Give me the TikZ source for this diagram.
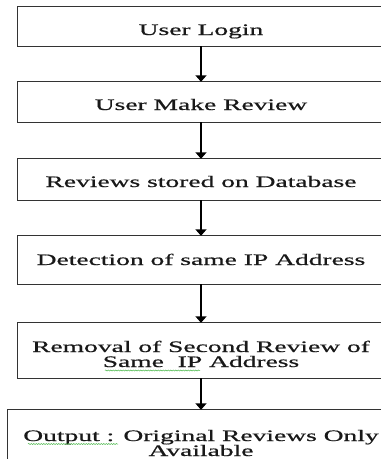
\documentclass[tikz,border=0pt]{standalone}
\usepackage{fontspec}
\setmainfont[FakeStretch=1.72,FakeBold=0.7]{Liberation Serif}
\usetikzlibrary{arrows.meta,decorations.pathmorphing}
\begin{document}
\begin{tikzpicture}[x=1pt,y=-1pt,
  box/.style={rectangle,inner sep=0pt,minimum width=382pt},
  edge/.style={draw=black!80,line width=0.9pt},
  lbl/.style={anchor=base,inner sep=0pt,align=center,font=\fontsize{16pt}{15pt}\selectfont,text=black!90},
  flow/.style={draw=black,line width=1.4pt,-{Triangle[width=11pt,length=6.5pt]}},
  spell/.style={draw=green!60!black!70,line width=0.5pt,decorate,decoration={snake,amplitude=0.6pt,segment length=2.5pt}}]
\useasboundingbox (0,0) rectangle (381,459);
\clip (0,0) rectangle (381,459);
\node[box,minimum height=39pt] (b1) at (209,26.5) {};
\node[box,minimum height=40pt] (b2) at (209,102) {};
\node[box,minimum height=41pt] (b3) at (209,179.5) {};
\node[box,minimum height=48pt] (b4) at (209,260) {};
\node[box,minimum height=55pt] (b5) at (209,350.5) {};
\node[box,minimum height=60pt,minimum width=392pt] (b6) at (204,440) {};
\foreach \b in {b1,b2,b3,b4,b5,b6}
  \draw[edge] (\b.north east) -- (\b.north west) -- (\b.south west) -- (\b.south east);
\node[lbl] (t1) at (201,35) {User Login};
\node[lbl] (t2) at (201,110) {User Make Review};
\node[lbl] (t3) at (201,187) {Reviews stored on Database};
\node[lbl] (t4) at (201,265) {Detection of same IP Address};
\node[lbl] (t5) at (201,367) {Removal of Second Review of\\Same\ \ IP Address};
\node[lbl] (t6) at (201,456) {Output : Original Reviews Only\\Available};
\draw[flow] (b1.south -| t1.base) -- (b2.north -| t1.base);
\draw[flow] (b2.south -| t1.base) -- (b3.north -| t1.base);
\draw[flow] (b3.south -| t1.base) -- (b4.north -| t1.base);
\draw[flow] (b4.south -| t1.base) -- (b5.north -| t1.base);
\draw[flow] (b5.south -| t1.base) -- (b6.north -| t1.base);
\coordinate (s1a) at (105,370.5);
\coordinate (s1b) at (200,370.5);
\coordinate (s2a) at (28,444);
\coordinate (s2b) at (118,444);
\draw[spell] (s1a) -- (s1b);
\draw[spell] (s2a) -- (s2b);
\end{tikzpicture}
\end{document}
